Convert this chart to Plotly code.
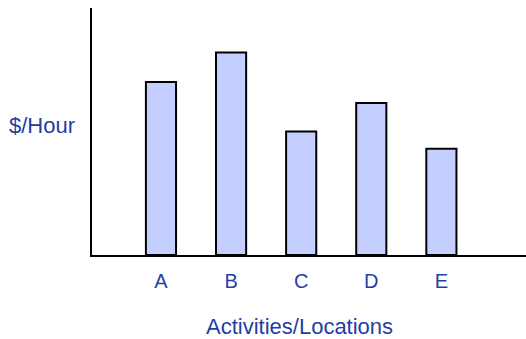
import plotly.graph_objects as go

# Hourly cost per activity / location
categories = ["A", "B", "C", "D", "E"]
rates = [7.0, 8.2, 5.0, 6.15, 4.3]

y_title = "$/Hour"
x_title = "Activities/Locations"

TEXT_BLUE = "#1f3fa5"
BAR_FILL = "#c4ceff"
FONT = "Arial, Liberation Sans, sans-serif"

fig = go.Figure(
    go.Bar(
        x=categories,
        y=rates,
        width=0.43,
        marker=dict(color=BAR_FILL, line=dict(color="black", width=2)),
        hoverinfo="skip",
    )
)

fig.update_layout(
    width=526,
    height=339,
    margin=dict(l=92, r=0, t=8, b=84),
    paper_bgcolor="white",
    plot_bgcolor="white",
    showlegend=False,
    font=dict(family=FONT, color=TEXT_BLUE, size=20),
)

fig.update_xaxes(
    type="category",
    range=[-0.984, 5.207],
    showline=True,
    linecolor="black",
    linewidth=2,
    showgrid=False,
    zeroline=False,
    ticks="",
    ticklabelstandoff=7,
    tickfont=dict(size=20, color=TEXT_BLUE, family=FONT),
)

fig.update_yaxes(
    range=[0, 10],
    showline=True,
    linecolor="black",
    linewidth=2,
    showgrid=False,
    zeroline=False,
    showticklabels=False,
    ticks="",
)

fig.add_annotation(
    text=y_title, xref="paper", yref="paper", x=0, y=0.526,
    xanchor="right", yanchor="middle", xshift=-15, showarrow=False,
    font=dict(size=22, color=TEXT_BLUE, family=FONT),
)
fig.add_annotation(
    text=x_title, xref="paper", yref="paper", x=0.477, y=0,
    xanchor="center", yanchor="middle", yshift=-71, showarrow=False,
    font=dict(size=22, color=TEXT_BLUE, family=FONT),
)

fig.write_html("out.html")
